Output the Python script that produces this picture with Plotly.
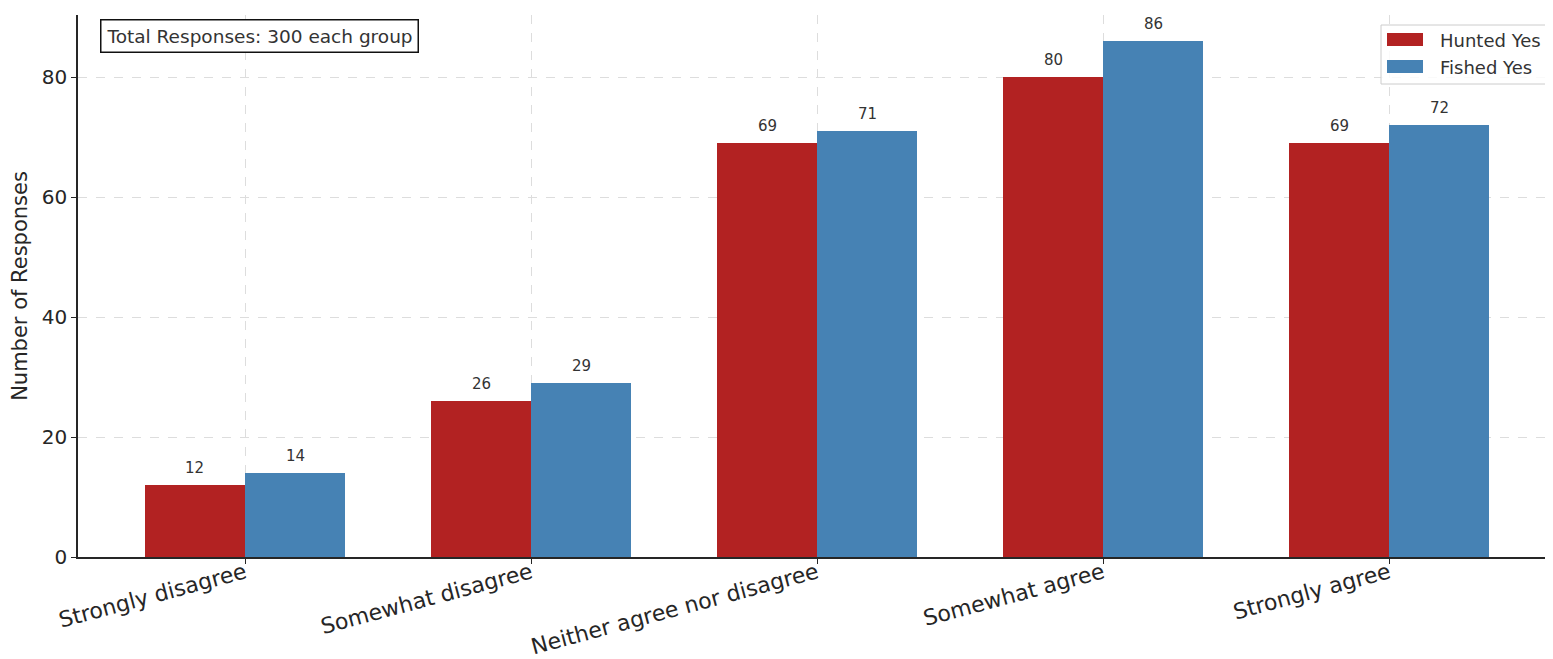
import plotly.graph_objects as go

categories = ["Strongly disagree", "Somewhat disagree", "Neither agree nor disagree", "Somewhat agree", "Strongly agree"]
hunted_yes = [12, 26, 69, 80, 69]
fished_yes = [14, 29, 71, 86, 72]
y_ticks = [0, 20, 40, 60, 80]
series_names = ["Hunted Yes", "Fished Yes"]

FONT = "DejaVu Sans"
RED = "#B22222"
BLUE = "#4682B4"
W = 0.35
xs = list(range(len(categories)))

# page body has an 8px margin; compensate so the plot lands where the reference has it
FIG_W, FIG_H = 1545, 651
PL, PR, PT, PB = 70, 0, 7, 102
PW = FIG_W - PL - PR
PH = FIG_H - PT - PB


def px(xs_screen):
    return (xs_screen - 8 - PL) / PW


def py(ys_screen):
    return (FIG_H - PB - (ys_screen - 8)) / PH


fig = go.Figure()
fig.add_trace(go.Bar(x=xs, y=hunted_yes, name=series_names[0], marker=dict(color=RED, line=dict(width=0)),
                     width=W, offset=-W, showlegend=False))
fig.add_trace(go.Bar(x=xs, y=fished_yes, name=series_names[1], marker=dict(color=BLUE, line=dict(width=0)),
                     width=W, offset=0, showlegend=False))

annotations = []
for i, v in enumerate(hunted_yes):
    annotations.append(dict(x=i - W / 2, y=v, xref="x", yref="y", text=str(v), showarrow=False,
                            yanchor="bottom", yshift=6, font=dict(family=FONT, size=15, color="#333333")))
for i, v in enumerate(fished_yes):
    annotations.append(dict(x=i + W / 2, y=v, xref="x", yref="y", text=str(v), showarrow=False,
                            yanchor="bottom", yshift=6, font=dict(family=FONT, size=15, color="#333333")))

annotations.append(dict(text="Total Responses: 300 each group", xref="paper", yref="paper",
                        x=px(100), y=py(19), xanchor="left", yanchor="top", showarrow=False,
                        font=dict(family=FONT, size=18.5, color="#333333"),
                        bordercolor="#111111", borderwidth=1.5, borderpad=5, bgcolor="white"))

# custom legend (matplotlib-style)
shapes = [dict(type="rect", xref="paper", yref="paper", x0=px(1381), x1=px(1549), y0=py(84), y1=py(25),
               line=dict(color="#cccccc", width=1), fillcolor="rgba(255,255,255,0.85)", layer="above")]
legend_rows = [(RED, 33, 46, 40), (BLUE, 60, 73, 67)]
for (color, y0, y1, yc), name in zip(legend_rows, series_names):
    shapes.append(dict(type="rect", xref="paper", yref="paper", x0=px(1387), x1=px(1423),
                       y0=py(y1), y1=py(y0), line=dict(width=0), fillcolor=color, layer="above"))
    annotations.append(dict(text=name, xref="paper", yref="paper", x=px(1438), y=py(yc),
                            xanchor="left", yanchor="middle", showarrow=False,
                            font=dict(family=FONT, size=18, color="#333333")))

fig.update_layout(
    width=FIG_W, height=FIG_H,
    margin=dict(l=PL, r=PR, t=PT, b=PB, autoexpand=False),
    plot_bgcolor="white", paper_bgcolor="white",
    font=dict(family=FONT, color="#262626"),
    bargap=0,
    showlegend=False,
    xaxis=dict(range=[-0.584, 4.573], tickmode="array", tickvals=xs, ticktext=categories,
               tickangle=-15, tickfont=dict(family=FONT, size=22, color="#262626"),
               ticklabelstandoff=-12,
               showgrid=True, gridcolor="#dddddd", griddash="dash", gridwidth=1,
               showline=True, linecolor="#262626", linewidth=1.5,
               ticks="outside", ticklen=5, tickcolor="#262626", zeroline=False, automargin=False),
    yaxis=dict(range=[0, 90.4], tickmode="array", tickvals=y_ticks,
               tickfont=dict(family=FONT, size=20, color="#262626"),
               showgrid=True, gridcolor="#dddddd", griddash="dash", gridwidth=1,
               showline=True, linecolor="#262626", linewidth=1.5,
               ticks="outside", ticklen=5, tickcolor="#262626", zeroline=False, automargin=False,
               title=dict(text="Number of Responses", font=dict(family=FONT, size=21, color="#262626"), standoff=8)),
    annotations=annotations,
    shapes=shapes,
)

fig.write_html("out.html")
